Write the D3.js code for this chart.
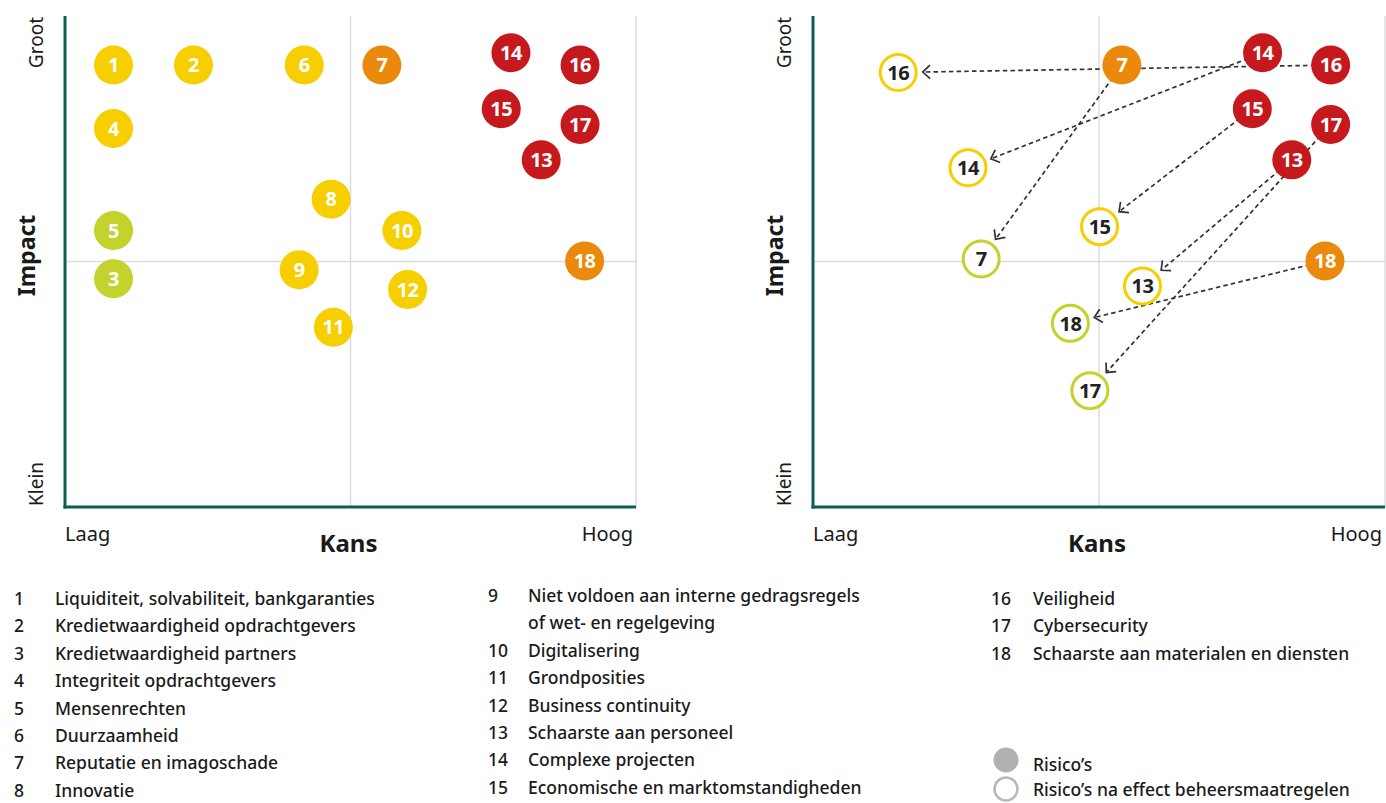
<!DOCTYPE html>
<html>
<head>
<meta charset="utf-8">
<script src="https://cdn.jsdelivr.net/npm/d3@7"></script>
<style>
  html, body { margin: 0; padding: 0; background: #fff; }
  svg { display: block; }
  text { font-family: "Noto Sans", "Open Sans", sans-serif; }
</style>
</head>
<body>
<svg id="chart" width="1386" height="803"></svg>
<script>
// ---- Data -------------------------------------------------------------
// Risk matrix scale: 0 = laag/klein, 100 = hoog/groot
const riskIds     = [1, 2, 3, 4, 5, 6, 7, 8, 9, 10, 11, 12, 13, 14, 15, 16, 17, 18];
const riskKans    = [8.5, 22.5, 8.5, 8.5, 8.5, 41.9, 55.5, 46.6, 41.0, 59.0, 47.0, 60.0, 83.4, 78.1, 76.4, 90.2, 90.2, 91.0];
const riskImpact  = [90, 90, 46.5, 77.1, 56.3, 90, 90, 62.7, 48.3, 56.3, 36.6, 44.3, 70.7, 92.5, 81.1, 90, 77.9, 50.1];
const riskLevel   = ["geel", "geel", "groen", "geel", "groen", "geel", "oranje", "geel", "geel", "geel", "geel", "geel", "rood", "rood", "rood", "rood", "rood", "oranje"];

// Risks with mitigating measures: before and after
const mitIds         = [16, 7, 14, 15, 13, 17, 18];
const mitKansBefore  = [90.5, 54.0, 78.6, 76.8, 83.7, 90.5, 89.5];
const mitImpBefore   = [90, 90, 92.5, 81.1, 70.7, 77.9, 50.1];
const mitLevelBefore = ["rood", "oranje", "rood", "rood", "rood", "rood", "oranje"];
const mitKansAfter   = [14.9, 29.4, 27.1, 50.1, 57.6, 48.4, 45.0];
const mitImpAfter    = [88.5, 50.5, 69.1, 57.1, 45.0, 23.7, 37.4];
const mitLevelAfter  = ["geel", "groen", "geel", "geel", "geel", "groen", "groen"];

const legendCol1 = [
  ["1", "Liquiditeit, solvabiliteit, bankgaranties"],
  ["2", "Kredietwaardigheid opdrachtgevers"],
  ["3", "Kredietwaardigheid partners"],
  ["4", "Integriteit opdrachtgevers"],
  ["5", "Mensenrechten"],
  ["6", "Duurzaamheid"],
  ["7", "Reputatie en imagoschade"],
  ["8", "Innovatie"]
];
const legendCol2 = [
  ["9", "Niet voldoen aan interne gedragsregels"],
  ["", "of wet- en regelgeving"],
  ["10", "Digitalisering"],
  ["11", "Grondposities"],
  ["12", "Business continuity"],
  ["13", "Schaarste aan personeel"],
  ["14", "Complexe projecten"],
  ["15", "Economische en marktomstandigheden"]
];
const legendCol3 = [
  ["16", "Veiligheid"],
  ["17", "Cybersecurity"],
  ["18", "Schaarste aan materialen en diensten"]
];
const legendKeys = ["Risico’s", "Risico’s na effect beheersmaatregelen"];

// ---- Styling ----------------------------------------------------------
const levelColor = { geel: "#f7ce00", groen: "#c3d22c", oranje: "#ea890c", rood: "#c5191d" };
const axisColor = "#0c5e55";
const gridColor = "#dcdcdc";
const textColor = "#1a1a1a";
const R = 19.5;

const svg = d3.select("#chart");

const yScale = d3.scaleLinear().domain([0, 100]).range([507, 16]);
const xLeft  = d3.scaleLinear().domain([0, 100]).range([65, 636]);
const xRight = d3.scaleLinear().domain([0, 100]).range([813, 1385]);

function drawFrame(x) {
  const g = svg.append("g");
  // quadrant grid lines
  g.append("line")
    .attr("x1", x(50)).attr("x2", x(50))
    .attr("y1", yScale(100)).attr("y2", yScale(0))
    .attr("stroke", gridColor).attr("stroke-width", 1.5);
  g.append("line")
    .attr("x1", x(100)).attr("x2", x(100))
    .attr("y1", yScale(100)).attr("y2", yScale(0))
    .attr("stroke", gridColor).attr("stroke-width", 1.5);
  g.append("line")
    .attr("x1", x(0)).attr("x2", x(100))
    .attr("y1", yScale(50)).attr("y2", yScale(50))
    .attr("stroke", gridColor).attr("stroke-width", 1.5);
  // axes
  g.append("line")
    .attr("x1", x(0)).attr("x2", x(0))
    .attr("y1", yScale(100)).attr("y2", yScale(0) + 1.5)
    .attr("stroke", axisColor).attr("stroke-width", 3);
  g.append("line")
    .attr("x1", x(0) - 1.5).attr("x2", x(100))
    .attr("y1", yScale(0)).attr("y2", yScale(0))
    .attr("stroke", axisColor).attr("stroke-width", 3);

  // axis labels
  const lx = x(0) - 22;
  g.append("text").text("Groot")
    .attr("transform", `translate(${lx},${yScale(100) + 1}) rotate(-90)`)
    .attr("text-anchor", "end").attr("font-size", 19).attr("fill", textColor);
  g.append("text").text("Klein")
    .attr("transform", `translate(${lx},${yScale(0) - 1}) rotate(-90)`)
    .attr("text-anchor", "start").attr("font-size", 19).attr("fill", textColor);
  g.append("text").text("Impact")
    .attr("transform", `translate(${x(0) - 30},${yScale(50) - 6}) rotate(-90)`)
    .attr("text-anchor", "middle").attr("font-size", 23).attr("font-weight", 700).attr("fill", textColor);
  g.append("text").text("Laag")
    .attr("x", x(0)).attr("y", 541)
    .attr("font-size", 20).attr("fill", textColor);
  g.append("text").text("Hoog")
    .attr("x", x(100) - 3).attr("y", 541).attr("text-anchor", "end")
    .attr("font-size", 20).attr("fill", textColor);
  g.append("text").text("Kans")
    .attr("x", x(50) - 2).attr("y", 552).attr("text-anchor", "middle")
    .attr("font-size", 24).attr("font-weight", 700).attr("fill", textColor);
}

drawFrame(xLeft);
drawFrame(xRight);

function filledBubbles(g, ids, kans, imp, lvl, x) {
  const data = ids.map((id, i) => ({ id, k: kans[i], v: imp[i], c: levelColor[lvl[i]] }));
  const b = g.selectAll("g.bub").data(data).join("g")
    .attr("transform", d => `translate(${x(d.k)},${yScale(d.v)})`);
  b.append("circle").attr("r", R).attr("fill", d => d.c);
  b.append("text").text(d => d.id)
    .attr("text-anchor", "middle").attr("dy", "0.36em")
    .attr("font-size", 20).attr("font-weight", 700).attr("fill", "#fff")
    .attr("font-family", "Roboto, 'Noto Sans', sans-serif")
    .attr("letter-spacing", -0.5);
}

// Left matrix: all risks
filledBubbles(svg.append("g"), riskIds, riskKans, riskImpact, riskLevel, xLeft);

// Right matrix: shift by mitigating measures
const gR = svg.append("g");
const moves = mitIds.map((id, i) => {
  const x0 = xRight(mitKansBefore[i]), y0 = yScale(mitImpBefore[i]);
  const x1 = xRight(mitKansAfter[i]),  y1 = yScale(mitImpAfter[i]);
  const ang = Math.atan2(y0 - y1, x0 - x1);
  const off = R + 5;
  return { id, x0, y0, x1, y1, ang, tx: x1 + Math.cos(ang) * off, ty: y1 + Math.sin(ang) * off };
});

const gLines = gR.append("g");
gLines.selectAll("line").data(moves).join("line")
  .attr("x1", d => d.x0).attr("y1", d => d.y0)
  .attr("x2", d => d.tx).attr("y2", d => d.ty)
  .attr("stroke", "#333").attr("stroke-width", 1.7)
  .attr("stroke-dasharray", "4.5,3.2");
const arm = 10, spread = 0.75;
gLines.selectAll("path").data(moves).join("path")
  .attr("d", d => {
    const a1 = d.ang + spread, a2 = d.ang - spread;
    return `M${d.tx + Math.cos(a1) * arm},${d.ty + Math.sin(a1) * arm}L${d.tx},${d.ty}L${d.tx + Math.cos(a2) * arm},${d.ty + Math.sin(a2) * arm}`;
  })
  .attr("fill", "none").attr("stroke", "#333").attr("stroke-width", 1.7);

filledBubbles(gR.append("g"), mitIds, mitKansBefore, mitImpBefore, mitLevelBefore, xRight);

const after = mitIds.map((id, i) => ({ id, k: mitKansAfter[i], v: mitImpAfter[i], c: levelColor[mitLevelAfter[i]] }));
const ab = gR.append("g").selectAll("g").data(after).join("g")
  .attr("transform", d => `translate(${xRight(d.k)},${yScale(d.v)})`);
ab.append("circle").attr("r", R - 1.5).attr("fill", "#fff")
  .attr("stroke", d => d.c).attr("stroke-width", 3);
ab.append("text").text(d => d.id)
  .attr("text-anchor", "middle").attr("dy", "0.36em")
  .attr("font-size", 20).attr("font-weight", 700).attr("fill", "#222")
  .attr("font-family", "Roboto, 'Noto Sans', sans-serif")
  .attr("letter-spacing", -0.5);

// ---- Legend -----------------------------------------------------------
const legendSize = 17.5;
function legendColumn(rows, numX, textX, y0, step) {
  const g = svg.append("g");
  rows.forEach((r, i) => {
    const y = y0 + i * step;
    g.append("text").text(r[0]).attr("x", numX).attr("y", y)
      .attr("font-size", legendSize).attr("font-weight", 500).attr("fill", textColor);
    g.append("text").text(r[1]).attr("x", textX).attr("y", y)
      .attr("font-size", legendSize).attr("font-weight", 500).attr("fill", textColor);
  });
}
legendColumn(legendCol1, 14, 55, 605, 27.4);
legendColumn(legendCol2, 488, 528, 602, 27.4);
legendColumn(legendCol3, 991, 1033, 605, 27.4);

const lg = svg.append("g");
lg.append("circle").attr("cx", 1006).attr("cy", 760).attr("r", 12.5).attr("fill", "#b0b0b0");
lg.append("circle").attr("cx", 1006).attr("cy", 789).attr("r", 11.5)
  .attr("fill", "#fff").attr("stroke", "#b8b8b8").attr("stroke-width", 2.5);
lg.append("text").text(legendKeys[0]).attr("x", 1033).attr("y", 771)
  .attr("font-size", legendSize).attr("font-weight", 500).attr("fill", textColor);
lg.append("text").text(legendKeys[1]).attr("x", 1033).attr("y", 796)
  .attr("font-size", legendSize).attr("font-weight", 500).attr("fill", textColor);
</script>
</body>
</html>
